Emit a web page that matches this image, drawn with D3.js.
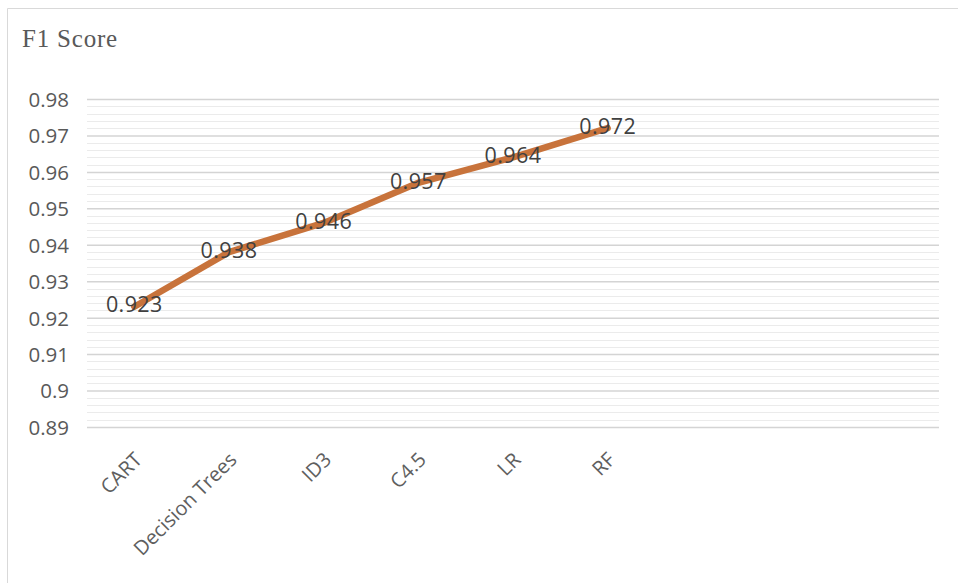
<!DOCTYPE html>
<html>
<head>
<meta charset="utf-8">
<script src="https://cdn.jsdelivr.net/npm/d3@7"></script>
<style>
  html, body { margin: 0; padding: 0; background: #fff; }
  svg { display: block; }
</style>
</head>
<body>
<svg id="chart" width="958" height="583"></svg>
<script>
// Models compared on F1 score
const categories = ["CART", "Decision Trees", "ID3", "C4.5", "LR", "RF"];
const f1Scores = [0.923, 0.938, 0.946, 0.957, 0.964, 0.972];
// the category axis keeps room for nine slots; the last three are empty
const slotCount = 9;
const yTicks = [0.89, 0.9, 0.91, 0.92, 0.93, 0.94, 0.95, 0.96, 0.97, 0.98];
const yTickLabels = ["0.89", "0.9", "0.91", "0.92", "0.93", "0.94", "0.95", "0.96", "0.97", "0.98"];
const title = "F1 Score";

const svg = d3.select("#chart");
const W = 958, H = 583;
const plot = { left: 87, right: 939, top: 99, bottom: 427 };

// outer frame (only top and left edges fall inside the view)
svg.append("path")
  .attr("d", `M7.5,${H} V8.5 H${W}`)
  .attr("fill", "none")
  .attr("stroke", "#d9d9d9")
  .attr("stroke-width", 1);

const x = d3.scaleBand()
  .domain(d3.range(slotCount))
  .range([plot.left, plot.right]);

const y = d3.scaleLinear()
  .domain([0.89, 0.98])
  .range([plot.bottom, plot.top]);

// minor gridlines every 0.002
const minorTicks = d3.range(0, 46).map(i => +(0.89 + i * 0.002).toFixed(3))
  .filter(v => !yTicks.some(t => Math.abs(t - v) < 1e-9));

const grid = svg.append("g");
grid.selectAll("line.minor")
  .data(minorTicks)
  .join("line")
  .attr("class", "minor")
  .attr("x1", plot.left).attr("x2", plot.right)
  .attr("y1", d => Math.round(y(d)) + 0.5)
  .attr("y2", d => Math.round(y(d)) + 0.5)
  .attr("stroke", "#ebebeb")
  .attr("stroke-width", 1);

// major gridlines drawn by the axis generator
const yAxis = d3.axisLeft(y)
  .tickValues(yTicks)
  .tickSize(-(plot.right - plot.left))
  .tickFormat((d, i) => yTickLabels[i]);

const yg = svg.append("g")
  .attr("transform", `translate(${plot.left},0)`)
  .call(yAxis);
yg.select(".domain").remove();
yg.selectAll(".tick line")
  .attr("stroke", "#d4d4d4")
  .attr("stroke-width", 1.5);
yg.selectAll(".tick text")
  .attr("x", -18)
  .attr("dy", "0.36em")
  .attr("fill", "#595959")
  .style("font-family", "'Open Sans', 'Noto Sans', sans-serif")
  .style("font-size", "20.5px");

// category axis labels, rotated
const xAxis = d3.axisBottom(x)
  .tickValues(d3.range(categories.length))
  .tickSize(0)
  .tickFormat(i => categories[i]);

const xg = svg.append("g")
  .attr("transform", `translate(0,${plot.bottom})`)
  .call(xAxis);
xg.select(".domain").remove();
xg.selectAll(".tick text")
  .attr("text-anchor", "end")
  .attr("transform", "translate(4,29) rotate(-45)")
  .attr("dy", "0.35em")
  .attr("y", 0)
  .attr("fill", "#5f5f5f")
  .style("font-family", "'Open Sans', 'Noto Sans', sans-serif")
  .style("font-size", "20px");

// series line
const pts = f1Scores.map((v, i) => ({ i, v }));
const line = d3.line()
  .x(d => x(d.i) + x.bandwidth() / 2)
  .y(d => y(d.v));

svg.append("path")
  .datum(pts)
  .attr("d", line)
  .attr("fill", "none")
  .attr("stroke", "#c8733b")
  .attr("stroke-width", 6.5)
  .attr("stroke-linejoin", "round")
  .attr("stroke-linecap", "round");

// value labels centred on each point
svg.append("g")
  .selectAll("text")
  .data(pts)
  .join("text")
  .attr("x", d => x(d.i) + x.bandwidth() / 2)
  .attr("y", d => y(d.v) - 2)
  .attr("dy", "0.36em")
  .attr("text-anchor", "middle")
  .attr("fill", "#404040")
  .style("font-family", "'Open Sans', 'Noto Sans', sans-serif")
  .style("font-size", "21.5px")
  .style("letter-spacing", "0.4px")
  .text(d => d.v.toFixed(3));

// chart title
svg.append("text")
  .attr("x", 22)
  .attr("y", 47)
  .attr("fill", "#595959")
  .style("font-family", "'Liberation Serif', 'DejaVu Serif', serif")
  .style("font-size", "25px")
  .style("letter-spacing", "0.8px")
  .text(title);
</script>
</body>
</html>
